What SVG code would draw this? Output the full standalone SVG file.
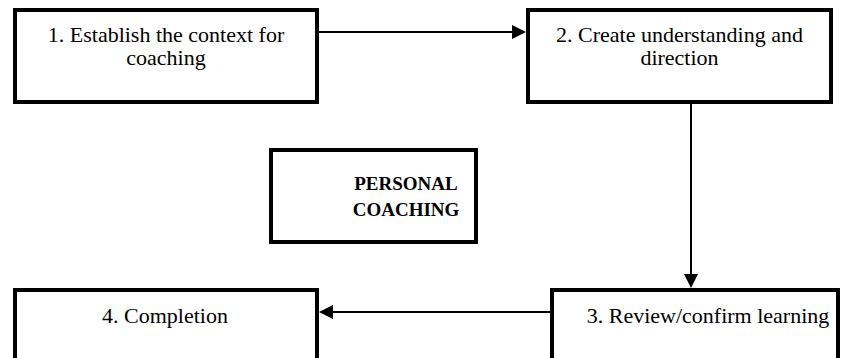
<svg xmlns="http://www.w3.org/2000/svg" width="845" height="358" viewBox="0 0 845 358">
  <style>
    .box { fill: #ffffff; stroke: #000000; stroke-width: 4; }
    .lbl { font-family: 'Liberation Serif', 'DejaVu Serif', serif; font-size: 22px; fill: #000000; text-anchor: middle; }
    .title { font-family: 'Liberation Serif', 'DejaVu Serif', serif; font-size: 19px; font-weight: bold; fill: #000000; text-anchor: middle; }
    .wire { stroke: #000000; stroke-width: 2; fill: none; }
    .head { fill: #000000; }
  </style>
  <rect width="845" height="358" fill="#ffffff"/>

  <g id="step1">
    <rect class="box" x="15" y="10" width="302" height="92"/>
    <text class="lbl" x="166" y="42">1. Establish the context for</text>
    <text class="lbl" x="166" y="65">coaching</text>
  </g>

  <g id="step2">
    <rect class="box" x="528" y="10" width="303" height="92"/>
    <text class="lbl" x="679.5" y="42">2. Create understanding and</text>
    <text class="lbl" x="679.5" y="65">direction</text>
  </g>

  <g id="centre">
    <rect class="box" x="271" y="150" width="205" height="92"/>
    <text class="title" x="406" y="190">PERSONAL</text>
    <text class="title" x="406" y="216">COACHING</text>
  </g>

  <g id="step3">
    <rect class="box" x="552" y="290" width="286" height="100"/>
    <text class="lbl" x="708" y="323">3. Review/confirm learning</text>
  </g>

  <g id="step4">
    <rect class="box" x="15" y="290" width="302" height="100"/>
    <text class="lbl" x="165" y="323">4. Completion</text>
  </g>

  <g id="connectors">
    <line class="wire" x1="319" y1="32" x2="514" y2="32"/>
    <polygon class="head" points="526,32 512,25 512,39"/>
    <line class="wire" x1="691" y1="104" x2="691" y2="276"/>
    <polygon class="head" points="691,288 684,274 698,274"/>
    <line class="wire" x1="550" y1="312" x2="331" y2="312"/>
    <polygon class="head" points="319,312 333,305 333,319"/>
  </g>
</svg>
